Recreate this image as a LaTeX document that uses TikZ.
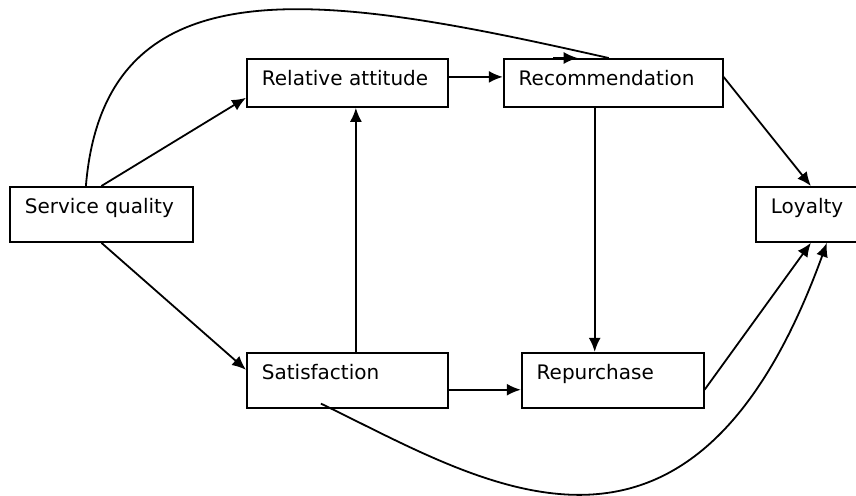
\documentclass[tikz,border=0pt]{standalone}
\usepackage{fontspec}
\setmainfont{DejaVu Sans}
\usetikzlibrary{arrows.meta, positioning}
\tikzset{
  blk/.style   = {draw=black, line width=0.9pt, align=left, inner xsep=7.5pt, inner ysep=0pt,
                  text height=13.3pt, font=\fontsize{10}{12}\selectfont},
  lowblk/.style = {blk, text depth=10.7pt},
  highblk/.style = {blk, text depth=14.2pt},
  fl/.style    = {-{Latex[length=7pt, width=6pt]}, line width=0.9pt, draw=black},
  cv/.style    = {line width=0.9pt, draw=black},
}

\begin{document}
\begin{tikzpicture}[x=0.5pt, y=-0.5pt]
\useasboundingbox (0,0) rectangle (856,495);

\node[highblk, text width=76.5pt, anchor=north west] (sq)  at (9,186)  {Service quality};
\node[lowblk,  text width=85.5pt, anchor=north west] (rel) at (246,58) {Relative attitude};
\node[lowblk,  text width=94.5pt, right=27pt of rel] (rec) {Recommendation};
\node[highblk, text width=85.5pt, below=122pt of rel] (sat) {Satisfaction};
\node[highblk, text width=76pt,   right=36pt of sat] (rep) {Repurchase};
\node[highblk, text width=37pt, anchor=north west]   (loy) at (755,186) {Loyalty};

% direct paths
\draw[fl] (sq.north) -- ([yshift=5pt]rel.south west);
\draw[fl] (sq.south) -- ([yshift=-9pt]sat.north west);
\draw[fl] ([yshift=3pt]rel.east) -- ([yshift=3pt]rec.west);
\draw[fl] ([xshift=4.25pt]sat.north) -- ([xshift=4.25pt]sat.north |- rel.south);
\draw[fl] ([xshift=-9.25pt]rec.south) -- ([xshift=-9.25pt]rec.south |- rep.north);
\draw[fl] ([yshift=-4.75pt]sat.east) -- ([yshift=-4.75pt]rep.west);
\draw[fl] ([yshift=3pt]rec.east) -- ([xshift=1.5pt]loy.north);
\draw[fl] ([yshift=-4.75pt]rep.east) -- ([xshift=1.5pt]loy.south);

% curved paths
\draw[cv] ([xshift=-7.75pt]sq.north) .. controls (105,-45) and (330,-5) .. ([xshift=-2.25pt]rec.north);
\draw[fl] ([xshift=-30pt]rec.north) -- ([xshift=-17.75pt]rec.north);
\draw[fl] ([xshift=-13.25pt, yshift=2.5pt]sat.south) .. controls (480,480) and (690,620) .. ([xshift=9.5pt]loy.south);
\end{tikzpicture}
\end{document}
